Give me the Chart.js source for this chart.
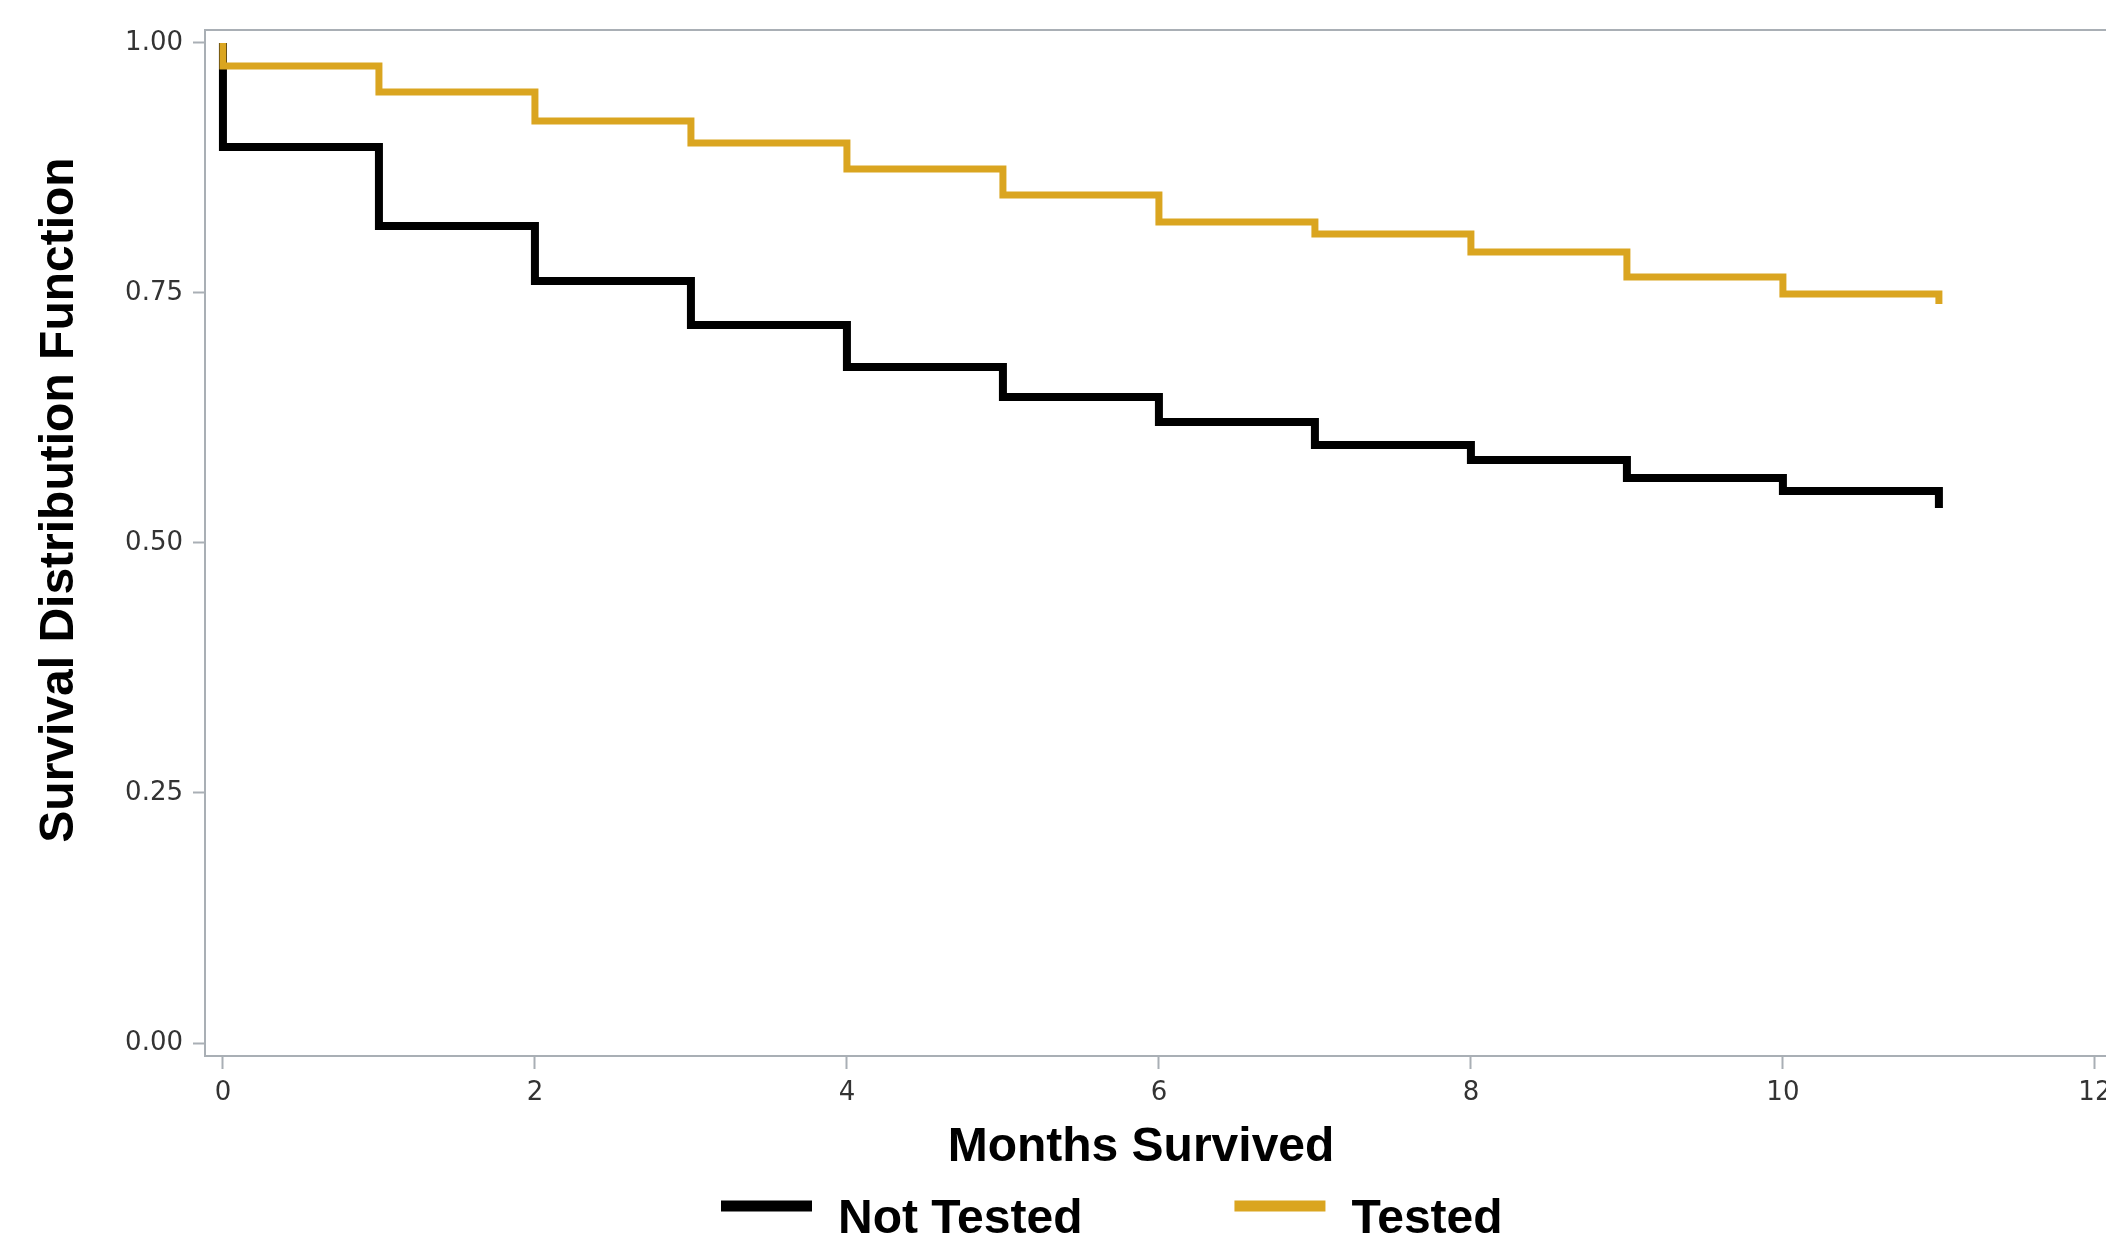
<!DOCTYPE html>
<html>
<head>
<meta charset="utf-8">
<title>Survival Distribution Function</title>
<script src="https://cdn.jsdelivr.net/npm/chart.js@4.4.1/dist/chart.umd.min.js"></script>
<style>
  html, body { margin: 0; padding: 0; background: #fff; overflow: hidden; }
  #wrap { width: 2106px; height: 1238px; overflow: hidden; }
</style>
</head>
<body>
<div id="wrap"><canvas id="kmChart" width="2130" height="1238"></canvas></div>
<script>
// Kaplan-Meier estimates, one value per event time (first point is the start at 1.0)
const months = [0, 0, 1, 2, 3, 4, 5, 6, 7, 8, 9, 10, 11];
const notTested = [1.0, 0.896, 0.817, 0.762, 0.718, 0.676, 0.646, 0.621, 0.598, 0.583, 0.565, 0.552, 0.535];
const tested = [1.0, 0.977, 0.951, 0.922, 0.900, 0.874, 0.848, 0.821, 0.809, 0.791, 0.766, 0.749, 0.739];

const seriesNames = ['Not Tested', 'Tested'];
const xTicks = [0, 2, 4, 6, 8, 10, 12];
const yTicks = [0, 0.25, 0.5, 0.75, 1];
const xTitle = 'Months Survived';
const yTitle = 'Survival Distribution Function';

const axisGrey = '#a9afb5';
const tickFont = { family: 'DejaVu Sans', size: 26 };
const bigFont = 'bold 48px "Liberation Sans", Arial, sans-serif';

const toPoints = (values) => months.map((m, i) => ({ x: m, y: values[i] }));

// axis titles + legend drawn on the canvas at the reference positions
const decorPlugin = {
  id: 'decor',
  afterDraw(chart) {
    const ctx = chart.ctx;
    ctx.save();
    ctx.fillStyle = '#000';
    ctx.font = bigFont;
    ctx.textAlign = 'center';
    ctx.textBaseline = 'middle';
    ctx.fillText(xTitle, 1141, 1148);

    ctx.save();
    ctx.translate(60, 500);
    ctx.rotate(-Math.PI / 2);
    ctx.fillText(yTitle, 0, 0);
    ctx.restore();

    // legend: line swatch + label, left to right
    let x = 721;
    ctx.textAlign = 'left';
    ctx.textBaseline = 'alphabetic';
    chart.data.datasets
      .slice()
      .sort((a, b) => seriesNames.indexOf(a.label) - seriesNames.indexOf(b.label))
      .forEach(ds => {
        ctx.fillStyle = ds.borderColor;
        ctx.fillRect(x, 1206 - 5.5, 91, 11);
        ctx.fillStyle = '#000';
        ctx.fillText(ds.label, x + 91 + 26, 1233);
        x += 91 + 26 + ctx.measureText(ds.label).width + 152;
      });
    ctx.restore();
  }
};

const ctx = document.getElementById('kmChart').getContext('2d');
new Chart(ctx, {
  type: 'line',
  data: {
    datasets: [
      {
        label: seriesNames[0],
        data: toPoints(notTested),
        borderColor: '#000000',
        backgroundColor: '#000000',
        borderWidth: 8,
        stepped: 'before', // horizontal first, then drop at the next event time
        pointRadius: 0,
        borderJoinStyle: 'miter',
        borderCapStyle: 'butt',
        order: 2
      },
      {
        label: seriesNames[1],
        data: toPoints(tested),
        borderColor: '#daa520',
        backgroundColor: '#daa520',
        borderWidth: 7,
        stepped: 'before',
        pointRadius: 0,
        borderJoinStyle: 'miter',
        borderCapStyle: 'butt',
        order: 1
      }
    ]
  },
  options: {
    responsive: false,
    animation: false,
    devicePixelRatio: 1,
    events: [],
    layout: { padding: { top: 30, left: 0, right: 0, bottom: 0 } },
    plugins: {
      legend: { display: false },
      tooltip: { enabled: false }
    },
    scales: {
      x: {
        type: 'linear',
        min: -0.115,
        max: 12.225,
        afterBuildTicks: s => { s.ticks = xTicks.map(v => ({ value: v })); },
        afterFit: s => { s.height = 182; },
        ticks: { font: tickFont, color: '#333', padding: 9, maxRotation: 0, autoSkip: false },
        grid: { drawOnChartArea: false, tickLength: 13, tickWidth: 2, color: axisGrey },
        border: { color: axisGrey, width: 2 }
      },
      xTop: {
        type: 'linear',
        position: 'top',
        min: -0.115,
        max: 12.225,
        afterFit: s => { s.height = 0; },
        ticks: { display: false },
        grid: { drawOnChartArea: false, drawTicks: false, color: axisGrey },
        border: { color: axisGrey, width: 2 }
      },
      y: {
        type: 'linear',
        min: -0.013,
        max: 1.013,
        afterBuildTicks: s => { s.ticks = yTicks.map(v => ({ value: v })); },
        afterFit: s => { s.width = 205; },
        ticks: { font: tickFont, color: '#333', padding: 10, callback: v => Number(v).toFixed(2) },
        grid: { drawOnChartArea: false, tickLength: 12, tickWidth: 2, color: axisGrey },
        border: { color: axisGrey, width: 2 }
      }
    }
  },
  plugins: [decorPlugin]
});
</script>
</body>
</html>
